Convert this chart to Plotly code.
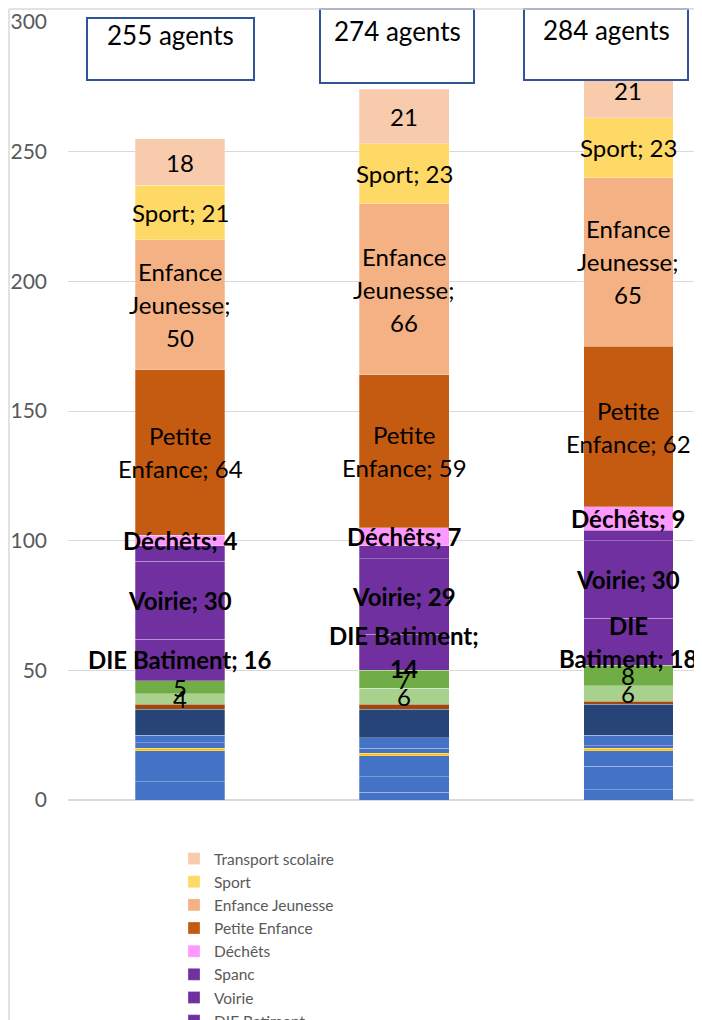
import numpy as np
import plotly.graph_objects as go

# three columns (labels are not shown on the chart)
categories = ["Colonne 1", "Colonne 2", "Colonne 3"]

# stacked series, listed from the bottom of the bars to the top
series_names = [
    "Service A", "Service B", "Service C", "Service D", "Service E", "Service F",
    "Service G", "Service H", "Service I", "Service J",
    "DIE Batiment", "Voirie", "Spanc", "Déchêts",
    "Petite Enfance", "Enfance Jeunesse", "Sport", "Transport scolaire",
]
series_values = [
    [7, 3, 4],
    [0, 6, 9],
    [12, 8, 6],
    [1, 1, 1],
    [2, 2, 1],
    [3, 4, 4],
    [10, 11, 12],
    [2, 2, 1],
    [4, 6, 6],
    [5, 7, 8],
    [16, 14, 18],
    [30, 29, 30],
    [6, 5, 4],
    [4, 7, 9],
    [64, 59, 62],
    [50, 66, 65],
    [21, 23, 23],
    [18, 21, 21],
]
series_colors = [
    "#4472C4", "#4472C4", "#4472C4", "#FFC000", "#4472C4", "#4472C4",
    "#264478", "#9E480E", "#A9D18E", "#70AD47",
    "#7030A0", "#7030A0", "#7030A0", "#FF99FF",
    "#C55A11", "#F4B183", "#FFD966", "#F8CBAD",
]
legend_names = ["DIE Batiment", "Voirie", "Spanc", "Déchêts", "Petite Enfance",
                "Enfance Jeunesse", "Sport", "Transport scolaire"]

# data label templates ("|" = line break), one per bar
label_templates = {
    "Service I": ["{v}"] * 3,
    "Service J": ["{v}"] * 3,
    "DIE Batiment": ["<b>DIE Batiment; {v}</b>", "<b>DIE Batiment;</b>|<b>{v}</b>",
                     "<b>DIE</b>|<b>Batiment; {v}</b>"],
    "Voirie": ["<b>Voirie; {v}</b>"] * 3,
    "Déchêts": ["<b>Déchêts; {v}</b>"] * 3,
    "Petite Enfance": ["Petite|Enfance; {v}"] * 3,
    "Enfance Jeunesse": ["Enfance|Jeunesse;|{v}"] * 3,
    "Sport": ["Sport; {v}"] * 3,
    "Transport scolaire": ["{v}"] * 3,
}

# page is drawn with an 8px body margin, so the figure is 8px smaller
OFF = 8
W, H = 702 - OFF, 1020 - OFF
L, T, PW, PH = 68 - OFF, 22 - OFF, 634, 778
FONT = "Lato"


def px_x(p):
    # page pixel -> paper x
    return (p - OFF - L) / PW


def px_y(p):
    # page pixel -> paper y
    return 1 - (p - OFF - T) / PH


fig = go.Figure()
for name, vals, col in zip(series_names, series_values, series_colors):
    fig.add_trace(go.Bar(
        x=categories, y=vals, name=name,
        marker=dict(color=col, line=dict(color="rgba(255,255,255,0.35)", width=0.8)),
        showlegend=name in legend_names,
    ))

# data labels centred in their segments
vals = np.array(series_values)
tops = np.cumsum(vals, axis=0)
mids = tops - vals / 2
annotations = []
for k, name in enumerate(series_names):
    if name not in label_templates:
        continue
    for j, cat in enumerate(categories):
        lines = label_templates[name][j].format(v=vals[k, j]).split("|")
        n = len(lines)
        for i, line in enumerate(lines):
            annotations.append(dict(
                x=cat, y=mids[k, j], xref="x", yref="y", text=line, showarrow=False,
                xanchor="center", yanchor="middle",
                yshift=((n - 1) / 2 - i) * 33,
                font=dict(family=FONT, size=24, color="black"),
            ))

# "xxx agents" boxes
totals = tops[-1]
boxes = [(87, 18, 254, 80, 170, 35), (320, 9, 474, 83, 397, 31), (524, 9, 688, 80, 606, 30)]
shapes = []
for tot, (x0, y0, x1, y1, tx, ty) in zip(totals, boxes):
    shapes.append(dict(type="rect", xref="paper", yref="paper",
                       x0=px_x(x0), x1=px_x(x1), y0=px_y(y1), y1=px_y(y0),
                       line=dict(color="#2F5597", width=2), fillcolor="white", layer="above"))
    annotations.append(dict(x=px_x(tx), y=px_y(ty), xref="paper", yref="paper",
                            xanchor="center", yanchor="middle",
                            text=f"{tot} agents", showarrow=False,
                            font=dict(family=FONT, size=26, color="black")))

# chart area border (left and top edges visible)
shapes.append(dict(type="line", xref="paper", yref="paper", x0=px_x(9), x1=px_x(9),
                   y0=px_y(9), y1=px_y(1040), line=dict(color="#d9d9d9", width=1.5)))
shapes.append(dict(type="line", xref="paper", yref="paper", x0=px_x(9), x1=px_x(720),
                   y0=px_y(9), y1=px_y(9), line=dict(color="#d9d9d9", width=1.5)))

fig.update_layout(
    width=W, height=H,
    barmode="stack", bargap=0.6,
    plot_bgcolor="white", paper_bgcolor="white",
    margin=dict(l=L, r=W - L - PW, t=T, b=H - T - PH, autoexpand=False),
    annotations=annotations, shapes=shapes,
    legend=dict(
        xref="container", yref="container", x=166 / W, y=1 - 834 / H,
        xanchor="left", yanchor="top", traceorder="reversed",
        font=dict(family=FONT, size=15.5, color="#595959"),
        itemwidth=30, bgcolor="rgba(0,0,0,0)",
    ),
    font=dict(family=FONT),
)
fig.update_xaxes(type="category", range=[-0.5, 2.328], showticklabels=False,
                 showgrid=False, ticks="", showline=False)
fig.update_yaxes(range=[0, 300], dtick=50, showgrid=True, gridcolor="#d9d9d9", gridwidth=1.3,
                 zeroline=True, zerolinecolor="#d9d9d9", zerolinewidth=1.5,
                 tickfont=dict(family=FONT, size=21, color="#595959"),
                 ticklabelstandoff=20, ticks="")

fig.write_html("out.html")
